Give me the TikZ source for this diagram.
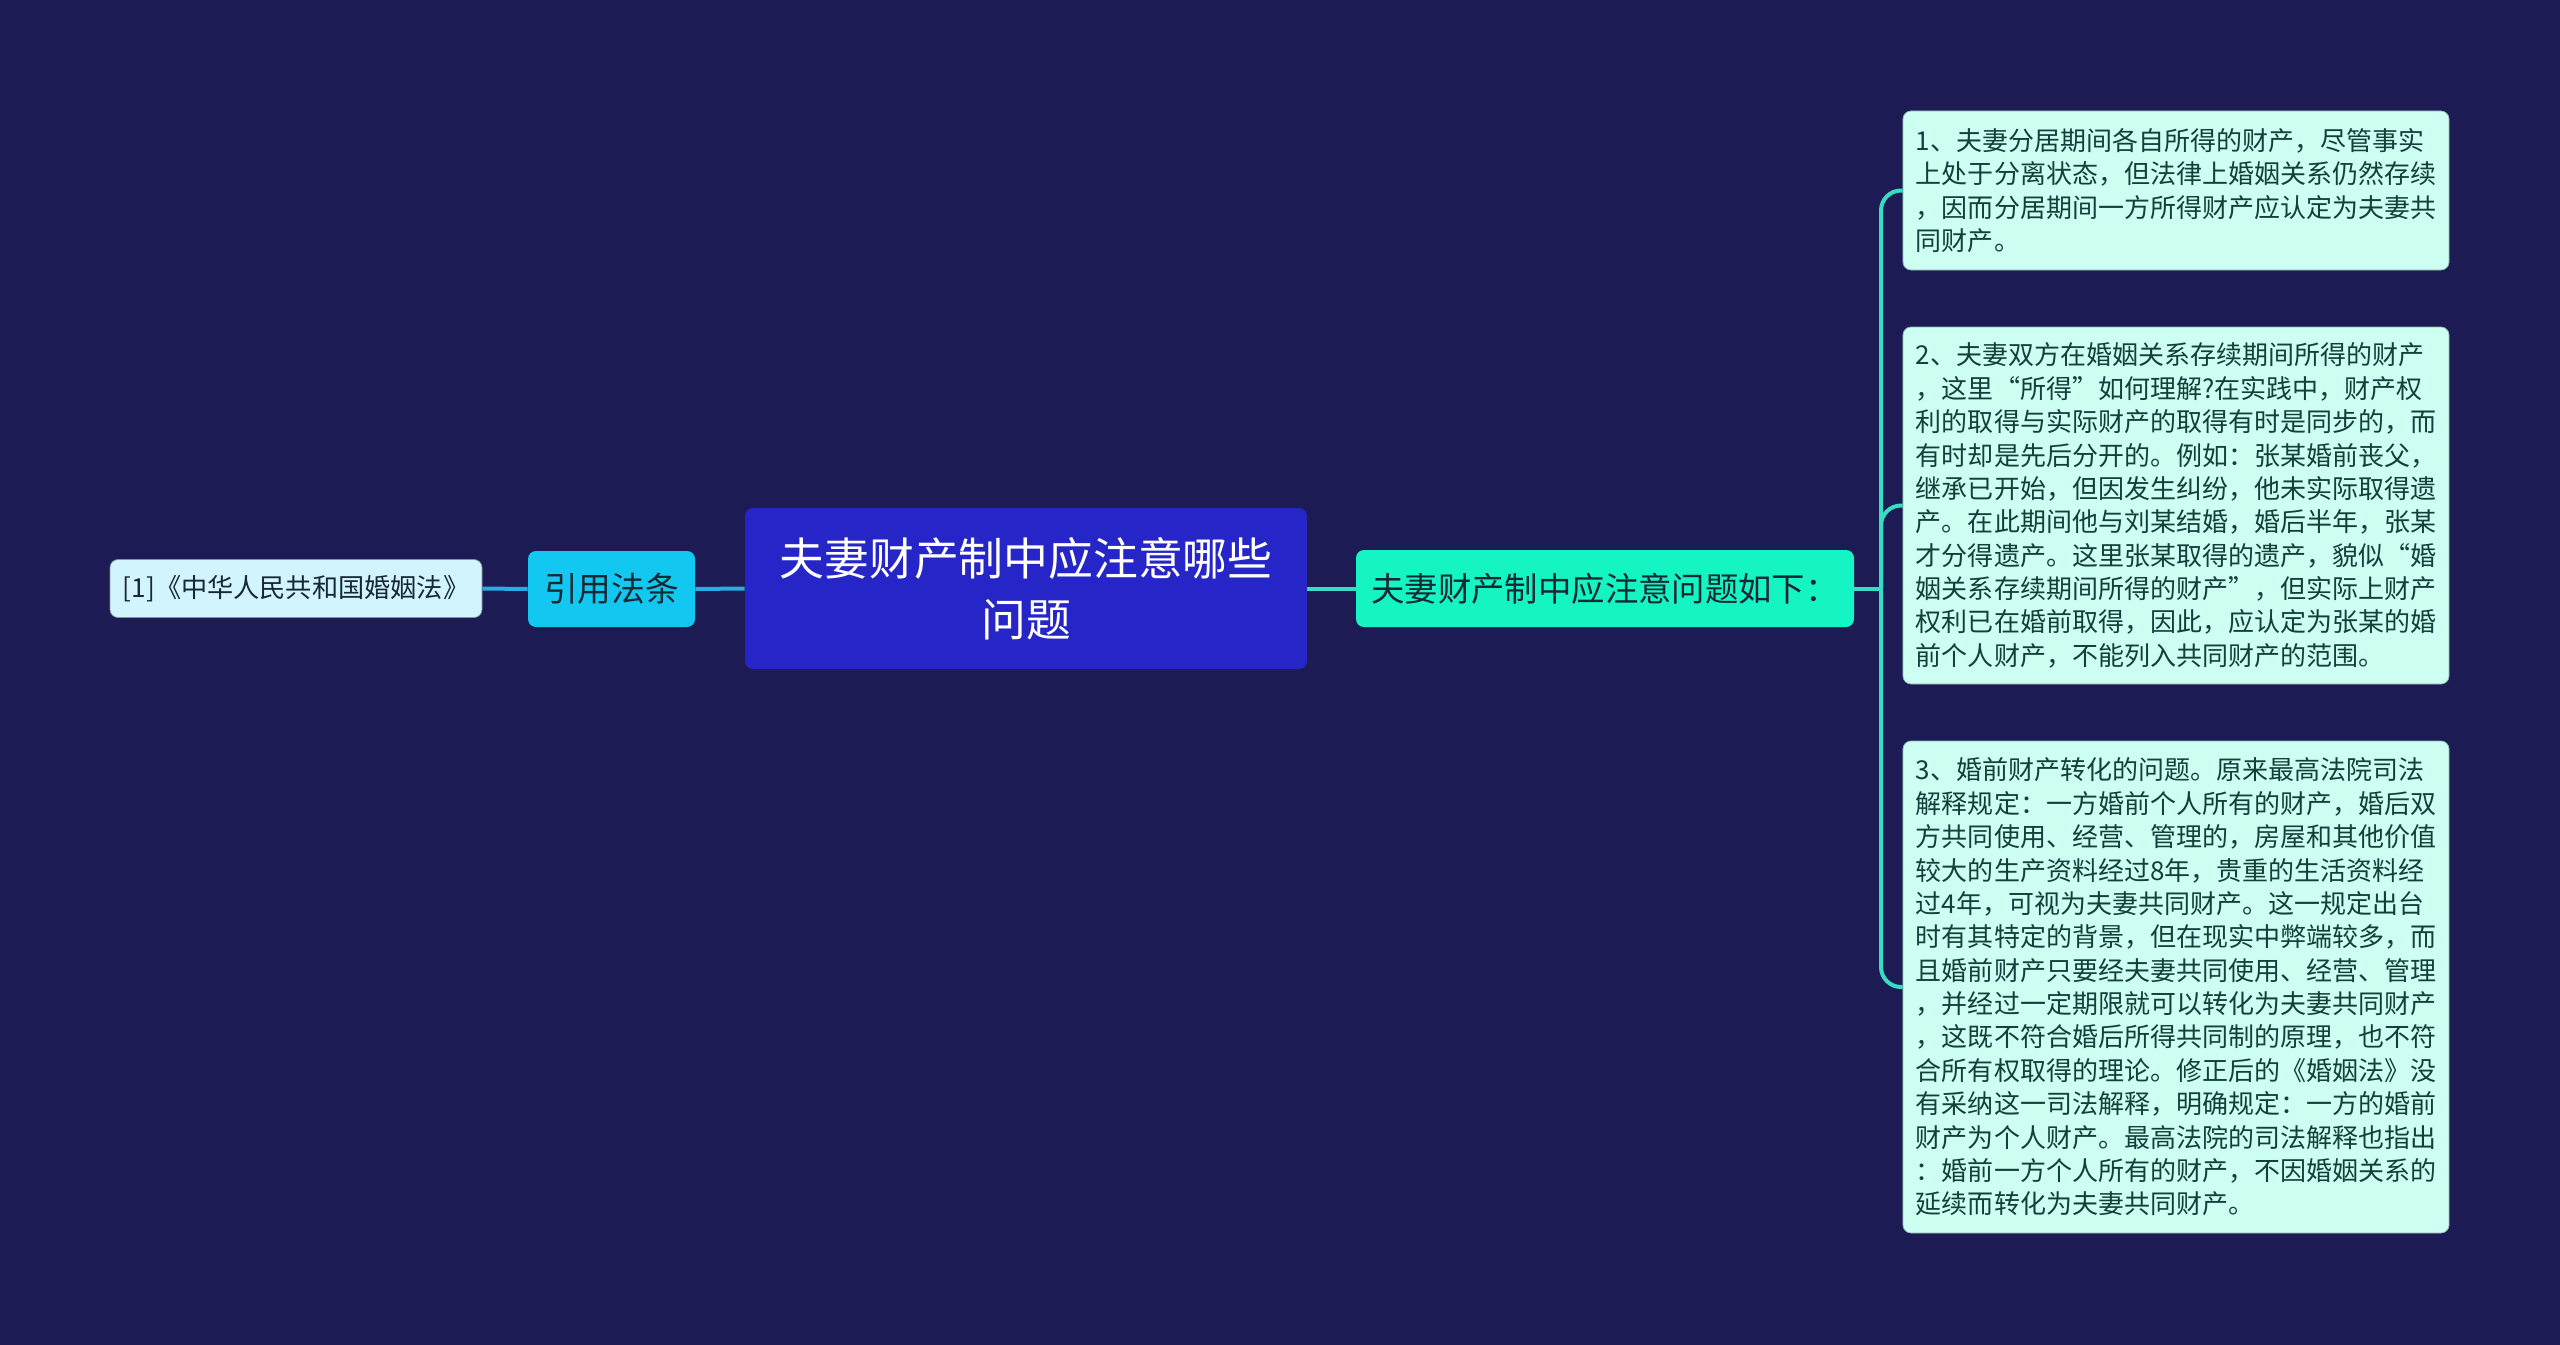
\documentclass[tikz,border=0pt]{standalone}
\usepackage{fontspec}
\setmainfont{Noto Sans CJK SC}
\usepackage{tikz}
\definecolor{bgnavy}{RGB}{28,27,84}
\definecolor{rootblue}{RGB}{38,38,200}
\definecolor{lawcyan}{RGB}{18,200,240}
\definecolor{refpale}{RGB}{210,244,252}
\definecolor{sumgreen}{RGB}{20,245,195}
\definecolor{notemint}{RGB}{205,255,242}
\definecolor{linkblue}{RGB}{45,170,225}
\definecolor{linkteal}{RGB}{55,220,195}
\definecolor{inkdark}{RGB}{22,40,52}
\definecolor{notetext}{RGB}{18,64,58}
\newdimen\pxu \pxu=0.02cm
\tikzset{
  box/.style={rounded corners=8\pxu, inner sep=0pt, align=center},
  notebox/.style={box, fill=notemint, draw=notemint!70!black, line width=0.4pt,
    inner xsep=13\pxu, minimum width=544\pxu, align=left, text=notetext,
    font=\fontsize{14.8}{19}\selectfont},
  linkl/.style={linkblue, line width=4\pxu},
  linkr/.style={linkteal, line width=4\pxu, rounded corners=20\pxu}
}

\begin{document}
\begin{tikzpicture}[x=\pxu, y=-\pxu]
        \fill[bgnavy] (0,0) rectangle (2560,1345);

        \node[box, fill=rootblue, text=white, minimum width=562\pxu, minimum height=161\pxu,
          font=\fontsize{25.5}{34.6}\selectfont] (root) at (1026,588.5) {夫妻财产制中应注意哪些\\问题};
        \node[box, fill=lawcyan, text=inkdark, minimum width=167\pxu, minimum height=76\pxu,
          font=\fontsize{19.2}{22}\selectfont] (law) at (611.5,589) {引用法条};
        \node[box, fill=refpale, text=inkdark, minimum width=372\pxu, minimum height=58\pxu,
          draw=refpale!60!black, line width=0.4pt,
          font=\fontsize{14.9}{17}\selectfont] (ref) at (296,588.5) {[1]《中华人民共和国婚姻法》};
        \node[box, fill=sumgreen, text=inkdark, minimum width=498\pxu, minimum height=77\pxu,
          font=\fontsize{19}{22}\selectfont] (sum) at (1605,588.5) {夫妻财产制中应注意问题如下：};

        \node[notebox, minimum height=159\pxu] (p1) at (2176,190.5) {%
          1、夫妻分居期间各自所得的财产，尽管事实\\
          上处于分离状态，但法律上婚姻关系仍然存续\\
          ，因而分居期间一方所得财产应认定为夫妻共\\
          同财产。};
        \node[notebox, minimum height=357\pxu] (p2) at (2176,505.5) {%
          2、夫妻双方在婚姻关系存续期间所得的财产\\
          ，这里“所得”如何理解?在实践中，财产权\\
          利的取得与实际财产的取得有时是同步的，而\\
          有时却是先后分开的。例如：张某婚前丧父，\\
          继承已开始，但因发生纠纷，他未实际取得遗\\
          产。在此期间他与刘某结婚，婚后半年，张某\\
          才分得遗产。这里张某取得的遗产，貌似“婚\\
          姻关系存续期间所得的财产”，但实际上财产\\
          权利已在婚前取得，因此，应认定为张某的婚\\
          前个人财产，不能列入共同财产的范围。};
        \node[notebox, minimum height=492\pxu] (p3) at (2176,987) {%
          3、婚前财产转化的问题。原来最高法院司法\\
          解释规定：一方婚前个人所有的财产，婚后双\\
          方共同使用、经营、管理的，房屋和其他价值\\
          较大的生产资料经过8年，贵重的生活资料经\\
          过4年，可视为夫妻共同财产。这一规定出台\\
          时有其特定的背景，但在现实中弊端较多，而\\
          且婚前财产只要经夫妻共同使用、经营、管理\\
          ，并经过一定期限就可以转化为夫妻共同财产\\
          ，这既不符合婚后所得共同制的原理，也不符\\
          合所有权取得的理论。修正后的《婚姻法》没\\
          有采纳这一司法解释，明确规定：一方的婚前\\
          财产为个人财产。最高法院的司法解释也指出\\
          ：婚前一方个人所有的财产，不因婚姻关系的\\
          延续而转化为夫妻共同财产。};

        % links on the left
        \draw[linkl] (root.west) -- (law.east);
        \draw[linkl] (law.west) -- (ref.east);

        % links on the right
        \coordinate (hub) at (1881,588.5);
        \draw[linkr] (root.east) -- (sum.west);
        \draw[linkr] (sum.east) -- (hub);
        \draw[linkr] (hub) |- (p1.west);
        \draw[linkr] (hub) |- (p2.west);
        \draw[linkr] (hub) |- (p3.west);
    \end{tikzpicture}
\end{document}
